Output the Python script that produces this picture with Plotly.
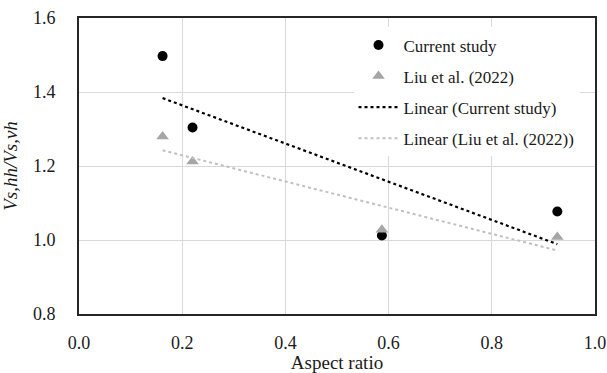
import numpy as np
import plotly.graph_objects as go

aspect_ratio = [0.162, 0.22, 0.587, 0.927]
current_study = [1.497, 1.304, 1.012, 1.077]
liu_2022 = [1.280, 1.212, 1.028, 1.008]

x_ticks = [0.0, 0.2, 0.4, 0.6, 0.8, 1.0]
y_ticks = [0.8, 1.0, 1.2, 1.4, 1.6]

FONT = "Liberation Serif"

def linfit(x, y):
    x = np.array(x); y = np.array(y)
    m, b = np.polyfit(x, y, 1)
    xs = np.array([x.min(), x.max()])
    return xs, m * xs + b

fig = go.Figure()
fig.add_trace(go.Scatter(x=aspect_ratio, y=current_study, mode="markers", name="Current study",
                         marker=dict(symbol="circle", size=10, color="black"), legendgroup="a"))
fig.add_trace(go.Scatter(x=aspect_ratio, y=liu_2022, mode="markers", name="Liu et al. (2022)",
                         marker=dict(symbol="triangle-up", size=11, color="#a6a6a6"), legendgroup="b"))
xs, ys = linfit(aspect_ratio, current_study)
fig.add_trace(go.Scatter(x=xs, y=ys, mode="lines", name="Linear (Current study)",
                         line=dict(color="black", width=2.2, dash="dot"), legendgroup="c"))
xs, ys = linfit(aspect_ratio, liu_2022)
fig.add_trace(go.Scatter(x=xs, y=ys, mode="lines", name="Linear (Liu et al. (2022))",
                         line=dict(color="#c0c0c0", width=2, dash="dot"), legendgroup="d"))

fig.update_layout(
    width=607, height=373,
    margin=dict(l=79, r=12, t=18, b=59),
    paper_bgcolor="white", plot_bgcolor="white",
    font=dict(family=FONT, size=18, color="#1a1a1a"),
    showlegend=True,
    legend=dict(x=0.532, y=0.968, xanchor="left", yanchor="top", bgcolor="white",
                font=dict(family=FONT, size=17, color="#1a1a1a"),
                tracegroupgap=6, itemwidth=40),
    xaxis=dict(range=[0, 1], tickvals=x_ticks, ticktext=[f"{v:.1f}" for v in x_ticks],
               showgrid=True, gridcolor="#d9d9d9", gridwidth=1, zeroline=False,
               showline=True, linecolor="#262626", linewidth=2, mirror=True,
               ticks="", ticklabelstandoff=11, automargin=False, ticklabeloverflow="allow",
               title=dict(text="Aspect ratio", font=dict(size=19), standoff=8)),
    yaxis=dict(range=[0.8, 1.6], tickvals=y_ticks, ticktext=[f"{v:.1f}" for v in y_ticks],
               showgrid=True, gridcolor="#d9d9d9", gridwidth=1, zeroline=False,
               showline=True, linecolor="#262626", linewidth=2, mirror=True,
               ticks="", ticklabelstandoff=18, automargin=False,
               title=dict(text="<i>Vs,hh/Vs,vh</i>", font=dict(size=19), standoff=10)),
)

fig.write_html("out.html")
